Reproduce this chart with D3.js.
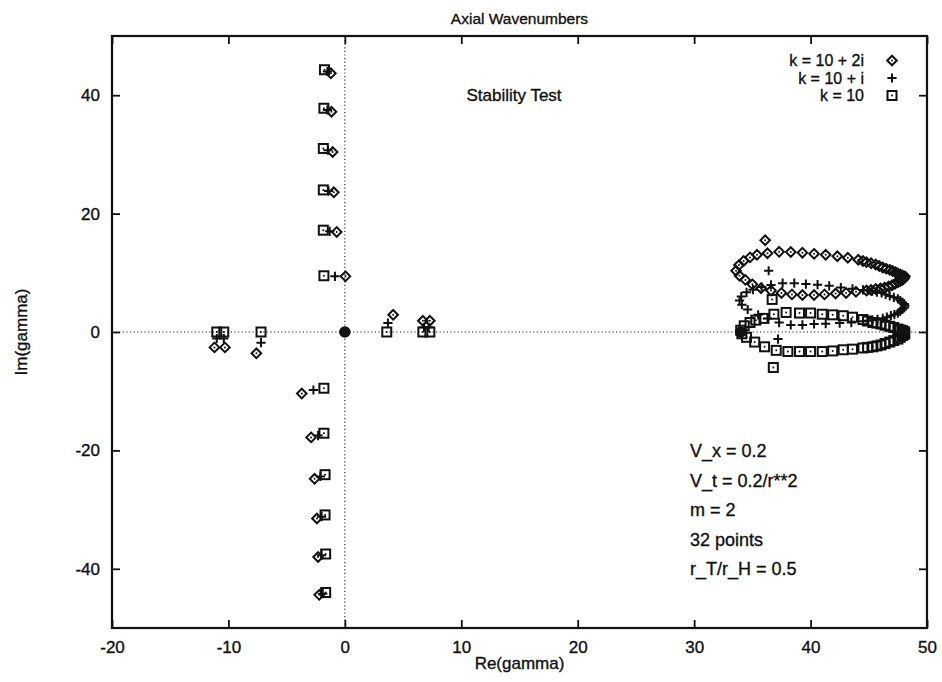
<!DOCTYPE html>
<html lang="en">
<head>
<meta charset="UTF-8">
<title>Axial Wavenumbers</title>
<script src="https://d3js.org/d3.v7.min.js"></script>
<style>
  body { margin: 0; background: #fff; }
  svg text { font-family: "Liberation Sans", Arial, Helvetica, sans-serif; fill: #111; stroke: #111; stroke-width: 0.35; }
  .tick text { font-size: 17px; }
  .tick line { stroke: #111; stroke-width: 1.8; }
  .zero { stroke: #222; stroke-width: 1.1; stroke-dasharray: 1.2 2.4; fill: none; }
  .mark { fill: none; stroke: #111; stroke-width: 2; }
</style>
</head>
<body>
<svg width="942" height="682"></svg>
<script>
// tick values
var xTicks = [-20, -10, 0, 10, 20, 30, 40, 50];
var yTicks = [-40, -20, 0, 20, 40];

// k = 10 + 2i (diamonds) : [Re, Im]
var diamondColumn = [[0.05, 9.4], [-0.7, 16.9], [-0.95, 23.6], [-1.05, 30.4], [-1.15, 37.2], [-1.2, 43.7],
  [-3.7, -10.4], [-2.9, -17.8], [-2.6, -24.8], [-2.4, -31.5], [-2.3, -38.0], [-2.2, -44.4]];
var diamondOther = [[-11.2, -2.6], [-10.3, -2.6], [-7.6, -3.6], [4.15, 2.9], [6.7, 1.9], [7.3, 1.9], [36.1, 15.5]];
var diamondLoop = [[33.6, 10.35], [33.85, 11.3], [34.25, 12.0], [34.8, 12.6], [35.4, 13.05], [36.3, 13.3],
  [37.3, 13.55], [38.3, 13.5], [39.3, 13.4], [40.3, 13.2], [41.3, 13.05], [42.3, 12.8], [43.2, 12.55],
  [44.1, 12.2], [44.5, 12.0], [44.8, 11.8], [45.2, 11.6], [45.6, 11.4], [45.9, 11.15], [46.2, 10.9],
  [46.5, 10.7], [46.8, 10.5], [47.05, 10.3], [47.3, 10.1], [47.5, 9.9], [47.7, 9.7], [47.9, 9.55],
  [48.1, 9.4], [48.05, 9.1], [47.9, 8.8], [47.7, 8.6], [47.5, 8.4], [47.25, 8.15], [47.0, 7.9],
  [46.7, 7.7], [46.35, 7.5], [46.0, 7.35], [45.6, 7.25], [45.2, 7.1], [44.8, 7.0],
  [43.9, 6.8], [43.05, 6.6], [42.15, 6.5], [41.2, 6.35], [40.3, 6.25], [39.3, 6.25], [38.4, 6.35],
  [37.5, 6.6], [36.6, 7.0], [35.75, 7.4], [35.0, 8.05], [34.4, 8.8], [33.9, 9.5]];

// k = 10 + i (crosses)
var crossColumn = [[-0.85, 9.4], [-1.3, 17.0], [-1.4, 23.8], [-1.45, 30.7], [-1.5, 37.5], [-1.5, 44.0],
  [-2.7, -9.8], [-2.3, -17.5], [-2.1, -24.4], [-2.0, -31.2], [-2.0, -37.7], [-1.9, -44.2]];
var crossOther = [[-11.0, -1.1], [-10.4, -1.1], [-7.2, -1.8], [3.7, 1.5], [6.8, 0.8], [7.2, 0.8],
  [36.4, 10.35], [37.2, -1.2]];
var crossLoop = [[35.8, 7.6], [36.6, 7.95], [37.6, 8.25], [38.6, 8.25], [39.6, 8.1], [40.6, 8.0],
  [41.6, 7.8], [42.6, 7.5], [43.6, 7.3], [44.5, 7.1], [44.9, 7.0], [45.3, 6.9], [45.7, 6.75],
  [46.1, 6.6], [46.45, 6.35], [46.8, 6.1], [47.15, 5.85], [47.5, 5.6], [47.7, 5.3], [47.9, 5.0],
  [48.05, 4.75], [48.1, 4.45], [48.05, 4.1], [47.9, 3.8], [47.7, 3.5], [47.5, 3.2], [47.2, 2.95],
  [46.9, 2.75], [46.55, 2.5], [46.2, 2.3], [45.75, 2.15], [45.3, 2.0], [44.9, 1.9], [44.5, 1.8],
  [43.5, 1.6], [42.5, 1.5], [41.3, 1.4], [40.3, 1.35], [39.3, 1.2],
  [38.3, 1.2], [37.3, 1.6], [36.3, 2.3], [35.5, 2.9], [34.6, 3.8], [34.1, 4.6], [33.9, 5.3],
  [34.05, 6.0], [34.5, 6.7], [35.05, 7.15]];

// k = 10 (squares)
var squareColumn = [[-1.8, 9.5], [-1.85, 17.2], [-1.85, 24.0], [-1.85, 31.0], [-1.8, 37.8], [-1.75, 44.3],
  [-1.8, -9.5], [-1.8, -17.1], [-1.7, -24.1], [-1.7, -30.9], [-1.65, -37.5], [-1.65, -44.0]];
var squareOther = [[-11.0, 0], [-10.4, 0], [-7.2, 0], [3.6, 0], [6.7, 0], [7.3, 0], [36.7, 5.5], [36.8, -6.0]];
var squareLoop = [[34.3, 1.05], [34.8, 1.6], [35.3, 2.0], [36.0, 2.3], [36.85, 3.0], [37.9, 3.3],
  [39.05, 3.2], [40.0, 3.2], [41.0, 3.0], [41.9, 2.9], [42.8, 2.75], [43.6, 2.5], [44.5, 2.1],
  [44.9, 1.85], [45.35, 1.6], [45.7, 1.5], [46.05, 1.35], [46.4, 1.15], [46.8, 0.96], [47.15, 0.75],
  [47.5, 0.5], [47.7, 0.35], [47.9, 0.23], [48.05, 0.05], [48.1, -0.17], [48.05, -0.4], [47.9, -0.6],
  [47.7, -0.9], [47.5, -1.2], [47.15, -1.45], [46.8, -1.7], [46.4, -1.95], [46.05, -2.2], [45.7, -2.35],
  [45.35, -2.5], [44.9, -2.6], [44.5, -2.7], [43.6, -2.9], [42.8, -3.0],
  [41.9, -3.2], [41.0, -3.3], [40.0, -3.3], [39.05, -3.3], [38.05, -3.3], [37.05, -3.1], [36.05, -2.5],
  [35.2, -1.7], [34.5, -0.9], [34.1, -0.3], [34.0, 0.3]];

// filled points
var rootPts = [[0, 0], [34.0, 0]];

var notes = ["V_x = 0.2", "V_t = 0.2/r**2", "m = 2", "32 points", "r_T/r_H = 0.5"];
var legendLabels = ["k = 10 + 2i", "k = 10 + i", "k = 10"];

var svg = d3.select("svg");
var pLeft = 112, pRight = 927, pTop = 36, pBottom = 628;

var x = d3.scaleLinear().domain([-20, 50]).range([pLeft, pRight]);
var y = d3.scaleLinear().domain([-50, 50]).range([pBottom, pTop]);
var fmt = function(d) { return String(d); };

// zero axes
svg.append("line").attr("class", "zero")
  .attr("x1", x(-20)).attr("x2", x(50)).attr("y1", y(0)).attr("y2", y(0));
svg.append("line").attr("class", "zero")
  .attr("x1", x(0)).attr("x2", x(0)).attr("y1", y(-50)).attr("y2", y(50));

// axes, ticks inward on all four sides
var gb = svg.append("g").attr("transform", "translate(0," + pBottom + ")")
  .call(d3.axisBottom(x).tickValues(xTicks).tickFormat(fmt).tickSize(-8).tickPadding(13));
var gl = svg.append("g").attr("transform", "translate(" + pLeft + ",0)")
  .call(d3.axisLeft(y).tickValues(yTicks).tickFormat(fmt).tickSize(-8).tickPadding(12));
var gt = svg.append("g").attr("transform", "translate(0," + pTop + ")")
  .call(d3.axisTop(x).tickValues(xTicks).tickSize(-8).tickFormat(""));
var gr = svg.append("g").attr("transform", "translate(" + pRight + ",0)")
  .call(d3.axisRight(y).tickValues(yTicks).tickSize(-8).tickFormat(""));
[gb, gl, gt, gr].forEach(function(g) { g.select(".domain").remove(); });
svg.selectAll(".tick text").attr("font-family", null).attr("font-size", null);

svg.append("rect")
  .attr("x", pLeft).attr("y", pTop).attr("width", pRight - pLeft).attr("height", pBottom - pTop)
  .attr("fill", "none").attr("stroke", "#111").attr("stroke-width", 2.2);

// marker shapes
function drawDiamonds(g, data) {
  var s = g.selectAll(null).data(data).enter().append("g")
    .attr("transform", function(d) { return "translate(" + x(d[0]) + "," + y(d[1]) + ")"; });
  s.append("path").attr("class", "mark").attr("d", "M0,-4.8L4.8,0L0,4.8L-4.8,0Z");
  s.append("circle").attr("r", 1).attr("fill", "#111");
}
function drawCrosses(g, data) {
  g.selectAll(null).data(data).enter().append("path")
    .attr("class", "mark").attr("stroke-width", 2.1)
    .attr("transform", function(d) { return "translate(" + x(d[0]) + "," + y(d[1]) + ")"; })
    .attr("d", "M-4.6,0H4.6M0,-4.6V4.6");
}
function drawSquares(g, data) {
  var s = g.selectAll(null).data(data).enter().append("g")
    .attr("transform", function(d) { return "translate(" + x(d[0]) + "," + y(d[1]) + ")"; });
  s.append("rect").attr("class", "mark").attr("x", -4.5).attr("y", -4.5).attr("width", 9).attr("height", 9);
  s.append("circle").attr("r", 1).attr("fill", "#111");
}

var plot = svg.append("g");
drawDiamonds(plot, diamondColumn.concat(diamondOther, diamondLoop));
drawCrosses(plot, crossColumn.concat(crossOther, crossLoop));
drawSquares(plot, squareColumn.concat(squareOther, squareLoop));

plot.selectAll(".root").data(rootPts).enter().append("circle")
  .attr("class", "root")
  .attr("cx", function(d) { return x(d[0]); })
  .attr("cy", function(d) { return y(d[1]); })
  .attr("r", 5.8).attr("fill", "#111");

// title & axis labels
svg.append("text").attr("x", (pLeft + pRight) / 2).attr("y", 24)
  .attr("text-anchor", "middle").attr("font-size", 15.5).text("Axial Wavenumbers");
svg.append("text").attr("x", (pLeft + pRight) / 2).attr("y", 669)
  .attr("text-anchor", "middle").attr("font-size", 17).text("Re(gamma)");
svg.append("text").attr("transform", "translate(27," + y(0) + ") rotate(-90)")
  .attr("text-anchor", "middle").attr("font-size", 17).text("Im(gamma)");

svg.append("text").attr("x", 514).attr("y", 101)
  .attr("text-anchor", "middle").attr("font-size", 17).text("Stability Test");

// legend
var legend = svg.append("g");
legendLabels.forEach(function(t, i) {
  legend.append("text").attr("x", 864).attr("y", 66 + i * 17.5)
    .attr("text-anchor", "end").attr("font-size", 16).text(t);
});
var lx = x.invert(892);
drawDiamonds(legend, [[lx, y.invert(60.5)]]);
drawCrosses(legend, [[lx, y.invert(78)]]);
drawSquares(legend, [[lx, y.invert(95.5)]]);

// parameter notes
notes.forEach(function(t, i) {
  svg.append("text").attr("x", 690).attr("y", y(-20) + 6.5 + i * 29.6)
    .attr("font-size", 18).text(t);
});
</script>
</body>
</html>
